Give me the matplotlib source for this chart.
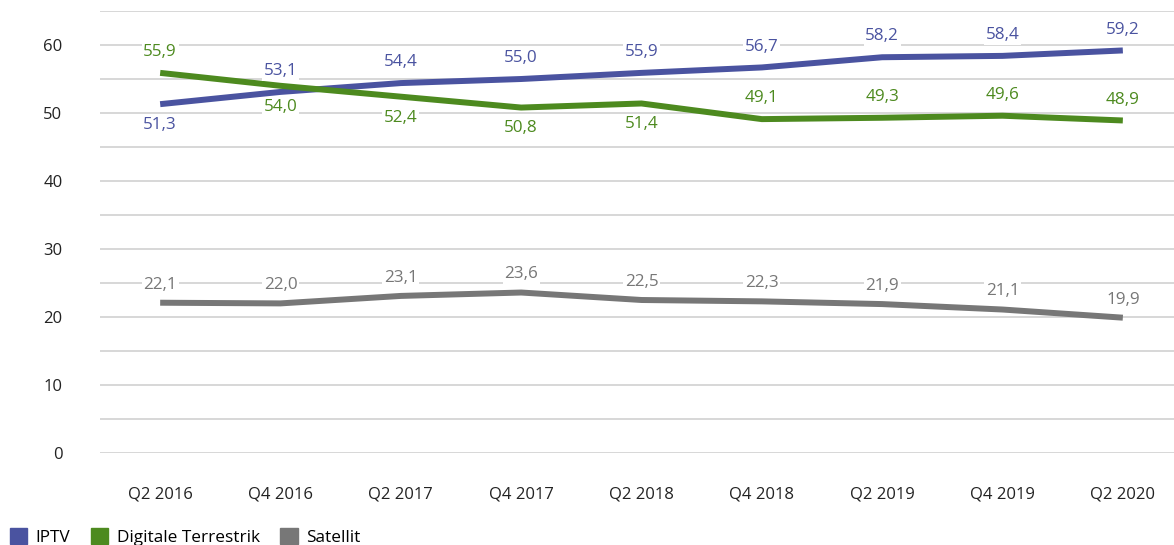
import matplotlib
matplotlib.use("Agg")
import matplotlib.pyplot as plt
from matplotlib.patches import Patch

categories = ["Q2 2016", "Q4 2016", "Q2 2017", "Q4 2017", "Q2 2018",
              "Q4 2018", "Q2 2019", "Q4 2019", "Q2 2020"]
iptv = [51.3, 53.1, 54.4, 55.0, 55.9, 56.7, 58.2, 58.4, 59.2]
terrestrik = [55.9, 54.0, 52.4, 50.8, 51.4, 49.1, 49.3, 49.6, 48.9]
satellit = [22.1, 22.0, 23.1, 23.6, 22.5, 22.3, 21.9, 21.1, 19.9]

# label placement: +1 above, -1 below
iptv_pos = [-1, 1, 1, 1, 1, 1, 1, 1, 1]
terr_pos = [1, -1, -1, -1, -1, 1, 1, 1, 1]
sat_pos = [1] * 9

c_iptv = "#4a53a0"
c_terr = "#4d8a1f"
c_sat = "#777777"

plt.rcParams['font.family'] = ['Open Sans', 'DejaVu Sans']

fig = plt.figure(figsize=(11.74, 5.45), dpi=100)
ax = fig.add_axes([100/1174, 92/545, 1083/1174, 442/545])

x = list(range(len(categories)))
ax.set_xlim(-0.5, len(categories) - 0.5)
ax.set_ylim(0, 65)

for yv in range(0, 66, 5):
    ax.axhline(yv, color="#d4d4d4", lw=1.3, zorder=0)

series = [(iptv, c_iptv, iptv_pos, "IPTV", 15),
          (terrestrik, c_terr, terr_pos, "Digitale Terrestrik", 15),
          (satellit, c_sat, sat_pos, "Satellit", 13)]
for vals, col, pos, name, off in series:
    ax.plot(x, vals, color=col, lw=4.3, solid_capstyle="butt", zorder=3)
for vals, col, pos, name, off in series:
    for xi, v, p in zip(x, vals, pos):
        ax.annotate(f"{v:.1f}".replace(".", ","), (xi, v),
                    xytext=(0, off * p), textcoords="offset points",
                    ha="center", va="center", fontsize=12.3, color=col,
                    bbox=dict(boxstyle="square,pad=0.1", fc="white", ec="none"),
                    zorder=4)

ax.set_yticks(range(0, 61, 10))
ax.set_xticks(x)
ax.set_xticklabels(categories)
ax.tick_params(axis="y", length=0, pad=27, labelsize=12, labelcolor="#222222")
ax.tick_params(axis="x", length=0, pad=24, labelsize=12, labelcolor="#222222")
for s in ax.spines.values():
    s.set_visible(False)

handles = [Patch(color=c, label=n) for _, c, _, n, _ in series]
fig.legend(handles=handles, loc="lower left", bbox_to_anchor=(-0.005, -0.03),
           ncol=3, frameon=False, fontsize=12.4, handlelength=1.0,
           handleheight=1.0, handletextpad=0.5, columnspacing=1.2)

fig.savefig("out.png", dpi=100)
